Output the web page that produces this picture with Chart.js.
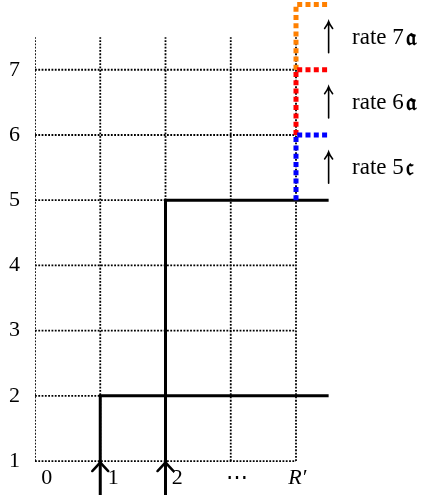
<!DOCTYPE html>
<html>
<head>
<meta charset="utf-8">
<script src="https://cdn.jsdelivr.net/npm/chart.js@4.4.0/dist/chart.umd.min.js"></script>
<style>
  html, body { margin: 0; padding: 0; background: #fff; }
  #wrap { width: 425px; height: 495px; }
</style>
</head>
<body>
<div id="wrap"><canvas id="chart"></canvas></div>
<script>
/* ===== DATA ===== */
const cols       = [0, 1, 2, 3, 4];
const rows       = [1, 2, 3, 4, 5, 6, 7];
const xLabels    = ['0', '1', '2', '⋯', 'R′'];
const gridTop    = 7.5;
const jumpTimes  = [1, 2];
const jumpLevels = [2, 5];
const lineStart  = 0.48;
const lineEnd    = 4.5;
const rateCol    = 4;
const rateFrom   = [5, 6, 7];
const rateTo     = [6, 7, 8];
const rateLabels = ['rate 5𝔠', 'rate 6𝔞', 'rate 7𝔞'];
const rateColors = ['#0000ff', '#ff0000', '#ff8000'];

const SERIF = '"Liberation Serif", "DejaVu Serif", serif';

/* ===== DATASETS ===== */
const datasets = [];
const seg = (pts, color, width, dash, order) => ({
  data: pts.map(p => ({ x: p[0], y: p[1] })),
  showLine: true, pointRadius: 0, borderColor: color, borderWidth: width,
  borderDash: dash, borderCapStyle: 'butt', borderJoinStyle: 'miter', order
});

cols.forEach(c => datasets.push(seg([[c, rows[0]], [c, gridTop]], '#000', 1.8, [1.8, 1.5], 3)));
rows.forEach(r => datasets.push(seg([[cols[0], r], [cols[cols.length - 1], r]], '#000', 1.8, [1.8, 1.5], 3)));
jumpTimes.forEach((t, i) =>
  datasets.push(seg([[t, lineStart], [t, jumpLevels[i]], [lineEnd, jumpLevels[i]]], '#000', 3, [], 2)));
rateFrom.forEach((f, i) =>
  datasets.push(seg([[rateCol, f], [rateCol, rateTo[i]], [lineEnd, rateTo[i]]], rateColors[i], 5, [5, 3.3], 1)));

/* ===== ANNOTATIONS ===== */
const annotations = {
  id: 'annotations',
  afterDatasetsDraw(chart) {
    const { ctx, scales: { x, y } } = chart;
    ctx.save();
    ctx.fillStyle = '#000';
    ctx.strokeStyle = '#000';

    // x labels
    const xOffsets = [0.18, 1.2, 2.18, 3.09, 4.02];
    ctx.textAlign = 'center';
    ctx.textBaseline = 'middle';
    xLabels.forEach((lab, i) => {
      ctx.font = (lab === 'R′' ? 'italic ' : '') + '22px ' + SERIF;
      ctx.fillText(lab, x.getPixelForValue(xOffsets[i]), y.getPixelForValue(0.73));
    });

    // arrowheads at the bottom of the jump lines
    ctx.lineWidth = 2.5;
    ctx.lineCap = 'round';
    jumpTimes.forEach(t => {
      const px = x.getPixelForValue(t), py = y.getPixelForValue(rows[0]) + 1;
      ctx.beginPath();
      ctx.moveTo(px - 8, py + 9);
      ctx.quadraticCurveTo(px - 2, py + 3, px, py);
      ctx.quadraticCurveTo(px + 2, py + 3, px + 8, py + 9);
      ctx.stroke();
    });

    // rate arrows and labels
    ctx.lineWidth = 1.6;
    ctx.textAlign = 'left';
    rateFrom.forEach((f, i) => {
      const px = x.getPixelForValue(lineEnd);
      const y0 = y.getPixelForValue(f + 0.26), y1 = y.getPixelForValue(f + 0.74);
      ctx.beginPath();
      ctx.moveTo(px, y0);
      ctx.lineTo(px, y1);
      ctx.moveTo(px - 4, y1 + 7);
      ctx.quadraticCurveTo(px - 1, y1 + 3, px, y1);
      ctx.quadraticCurveTo(px + 1, y1 + 3, px + 4, y1 + 7);
      ctx.stroke();
      const label = rateLabels[i];
      const head = label.slice(0, -2), frak = label.slice(-2);
      const lx = x.getPixelForValue(4.86), ly = y.getPixelForValue(f + 0.49);
      ctx.font = '23px ' + SERIF;
      ctx.fillText(head, lx, ly);
      const w = ctx.measureText(head).width;
      ctx.font = 'bold 24px "DejaVu Sans", ' + SERIF;
      ctx.fillText(frak, lx + w + 2, ly + 1);
    });
    ctx.restore();
  }
};

/* ===== CHART ===== */
new Chart(document.getElementById('chart'), {
  type: 'scatter',
  data: { datasets },
  options: {
    responsive: true,
    maintainAspectRatio: false,
    animation: false,
    layout: { padding: 0 },
    plugins: { legend: { display: false }, tooltip: { enabled: false } },
    scales: {
      x: { type: 'linear', min: 0, max: 5.977, display: false },
      y: {
        type: 'linear', min: 0.479, max: 8.07,
        grid: { display: false }, border: { display: false },
        afterBuildTicks: s => { s.ticks = rows.map(v => ({ value: v })); },
        afterFit: s => { s.width = 35; s.paddingTop = 0; s.paddingBottom = 0; },
        ticks: { color: '#000', padding: 7, font: { family: SERIF, size: 22 }, callback: v => String(v) }
      }
    }
  },
  plugins: [annotations]
});
</script>
</body>
</html>
